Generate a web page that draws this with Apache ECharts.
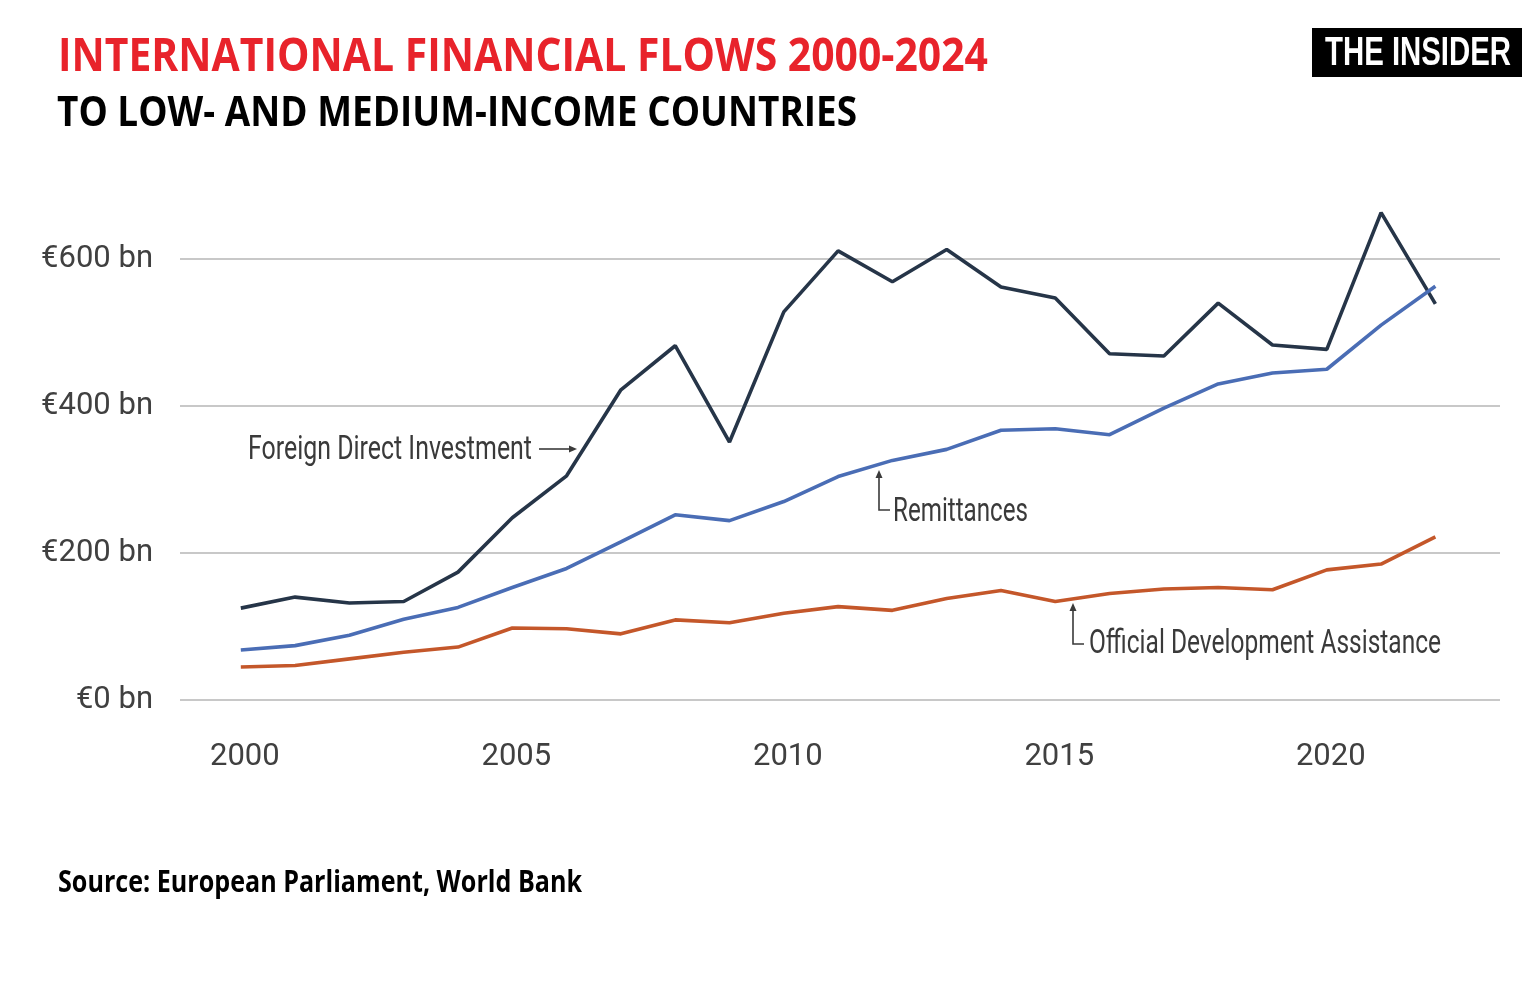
<!DOCTYPE html>
<html>
<head>
<meta charset="utf-8">
<script src="https://cdn.jsdelivr.net/npm/echarts@6/dist/echarts.min.js"></script>
<style>
  html, body { margin: 0; padding: 0; background: #fff; }
  #main { width: 1540px; height: 1000px; }
</style>
</head>
<body>
<div id="main"></div>
<script>
// data (€ bn)
var years = [2000, 2001, 2002, 2003, 2004, 2005, 2006, 2007, 2008, 2009, 2010, 2011,
             2012, 2013, 2014, 2015, 2016, 2017, 2018, 2019, 2020, 2021, 2022]
var fdi = [125, 140, 132, 134, 174, 248, 305, 422, 482, 351, 528, 611,
           569, 613, 562, 547, 471, 468, 540, 483, 477, 663, 539]
var remittances = [68, 74, 88, 110, 126, 153, 179, 215, 252, 244, 270, 304,
                   326, 341, 367, 369, 361, 397, 430, 445, 450, 510, 563]
var oda = [45, 47, 56, 65, 72, 98, 97, 90, 109, 105, 118, 127,
           122, 138, 149, 134, 145, 151, 153, 150, 177, 185, 222]
var yearTicks = [2000, 2005, 2010, 2015, 2020]

var narrow = "'Roboto', sans-serif"

// horizontal squeeze so a text fills a given width
var measureCtx = document.createElement('canvas').getContext('2d')
function fit(text, font, width) {
  measureCtx.font = font
  return width / measureCtx.measureText(text).width
}

function label(text, x, y, width, size, weight, family, color) {
  var font = weight + ' ' + size + 'px ' + family
  return {
    type: 'text', x: x, y: y, scaleX: fit(text, font, width),
    style: { text: text, x: 0, y: 0, font: font, fill: color, align: 'left', verticalAlign: 'middle' }
  }
}

function toPairs(arr) {
  return arr.map(function (v, i) { return [years[i], v] })
}

var chart = echarts.init(document.getElementById('main'))

var arrowColor = '#3a3a3a'
var option = {
  backgroundColor: '#fff',
  animation: false,
  grid: { left: 180, right: 40, top: 259, bottom: 300 },
  xAxis: {
    type: 'value',
    min: 1998.88,
    max: 2023.19,
    axisLine: { show: false },
    axisTick: { show: false },
    splitLine: { show: false },
    axisLabel: {
      customValues: yearTicks,
      formatter: function (v) { return String(v) },
      fontFamily: narrow,
      fontSize: 31,
      color: '#404040',
      margin: 42,
      padding: [0, 0, 0, 8]
    }
  },
  yAxis: {
    type: 'value',
    min: 0,
    max: 600,
    interval: 200,
    axisLine: { show: false },
    axisTick: { show: false },
    splitLine: { lineStyle: { color: '#c8c8c8', width: 2 } },
    axisLabel: {
      formatter: function (v) { return '€' + v + ' bn' },
      fontFamily: narrow,
      fontSize: 31,
      color: '#404040',
      margin: 27
    }
  },
  series: [
    {
      name: 'Foreign Direct Investment', type: 'line', data: toPairs(fdi),
      showSymbol: false, clip: false,
      lineStyle: { color: '#263548', width: 3.6 }
    },
    {
      name: 'Remittances', type: 'line', data: toPairs(remittances),
      showSymbol: false, clip: false,
      lineStyle: { color: '#4a6db5', width: 3.6 }
    },
    {
      name: 'Official Development Assistance', type: 'line', data: toPairs(oda),
      showSymbol: false, clip: false,
      lineStyle: { color: '#c4572a', width: 3.6 }
    }
  ],
  graphic: [
    label('INTERNATIONAL FINANCIAL FLOWS 2000-2024', 58, 58, 930, 46, 'bold', "'Open Sans', sans-serif", '#e8232b'),
    label('TO LOW- AND MEDIUM-INCOME COUNTRIES', 57, 114, 800, 42, 'bold', "'Open Sans', sans-serif", '#000'),
    { type: 'rect', shape: { x: 1312, y: 28, width: 210, height: 49 }, style: { fill: '#000' } },
    label('THE INSIDER', 1325, 54, 186, 40, 'bold', "'Liberation Sans', sans-serif", '#fff'),
    label('Source: European Parliament, World Bank', 58, 883, 524, 30, 'bold', "'Open Sans', sans-serif", '#000'),

    // annotations
    label('Foreign Direct Investment', 248, 450, 284, 34, 'normal', narrow, '#3a3a3a'),
    { type: 'polyline', shape: { points: [[539, 449], [571, 449]] }, style: { stroke: arrowColor, lineWidth: 1.6 } },
    { type: 'polygon', shape: { points: [[577, 449], [569, 445.5], [569, 452.5]] }, style: { fill: arrowColor } },

    label('Remittances', 893, 512, 135, 34, 'normal', narrow, '#3a3a3a'),
    { type: 'polyline', shape: { points: [[879, 476], [879, 510], [890, 510]] }, style: { stroke: arrowColor, lineWidth: 1.6 } },
    { type: 'polygon', shape: { points: [[879, 470], [875.5, 478], [882.5, 478]] }, style: { fill: arrowColor } },

    label('Official Development Assistance', 1089, 644, 352, 34, 'normal', narrow, '#3a3a3a'),
    { type: 'polyline', shape: { points: [[1073, 609], [1073, 644], [1084, 644]] }, style: { stroke: arrowColor, lineWidth: 1.6 } },
    { type: 'polygon', shape: { points: [[1073, 603], [1069.5, 611], [1076.5, 611]] }, style: { fill: arrowColor } }
  ]
}

chart.setOption(option)
</script>
</body>
</html>
